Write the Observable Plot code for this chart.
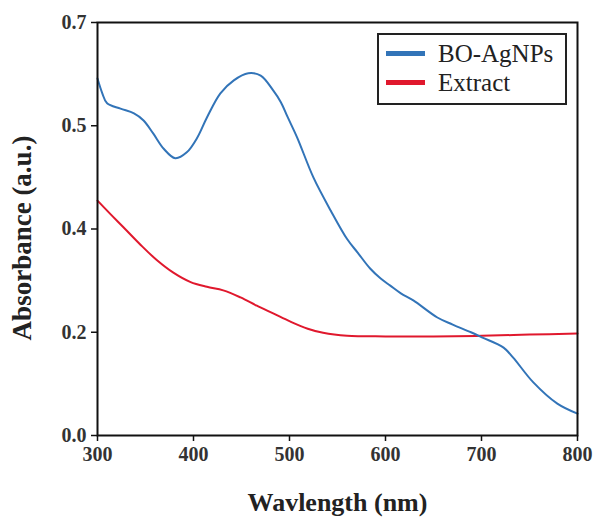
<!DOCTYPE html>
<html>
<head>
<meta charset="utf-8">
<script src="https://cdn.jsdelivr.net/npm/d3@7"></script>
<script src="https://cdn.jsdelivr.net/npm/@observablehq/plot@0.6"></script>
<style>
  html, body { margin: 0; padding: 0; background: #fff; }
  #wrap { position: relative; width: 594px; height: 517px; }
  #legend {
    position: absolute; left: 377px; top: 33px; width: 190px; height: 72px;
    border: 2px solid #222; box-sizing: border-box; background: #fff;
    font-family: "Liberation Serif", "Times New Roman", serif; font-size: 25px; color: #222;
    padding-top: 4px;
  }
  .row { display: flex; align-items: center; height: 29px; }
  .sw { width: 39px; height: 5px; margin-left: 7px; margin-right: 13px; }
</style>
</head>
<body>
<div id="wrap"></div>
<script>
const seriesNames = ["BO-AgNPs", "Extract"];
const seriesColors = ["#3274b8", "#e0182d"];

const blueWavelength = [300,305,310,324,338,348,358,369,381,393,404,414,428,442,457,470,483,491,498,508,525,543,560,571,584,595,605,616,629,654,670,689,701,723,733,754,779,800];
const blueAbsorbance = [0.605,0.580,0.563,0.554,0.546,0.534,0.512,0.486,0.470,0.480,0.505,0.539,0.580,0.602,0.614,0.610,0.585,0.565,0.540,0.505,0.437,0.381,0.333,0.310,0.283,0.266,0.254,0.241,0.229,0.200,0.188,0.175,0.166,0.149,0.132,0.090,0.054,0.037];

const redWavelength = [300,313,327,345,362,379,397,414,431,449,466,483,501,519,535,560,600,650,700,750,800];
const redAbsorbance = [0.398,0.376,0.353,0.323,0.297,0.276,0.260,0.252,0.246,0.234,0.220,0.207,0.193,0.181,0.174,0.169,0.168,0.168,0.169,0.171,0.173];

const xTicks = [300,400,500,600,700,800];
const yTickValues = [0, 0.175, 0.35, 0.525, 0.7];
const yTickLabels = ["0.0", "0.2", "0.4", "0.5", "0.7"];
const xTitle = "Wavlength (nm)";
const yTitle = "Absorbance (a.u.)";

const blue = blueWavelength.map((w, i) => ({w, a: blueAbsorbance[i]}));
const red = redWavelength.map((w, i) => ({w, a: redAbsorbance[i]}));

const font = "Liberation Serif";

const chart = Plot.plot({
  width: 594,
  height: 517,
  marginLeft: 97,
  marginRight: 17,
  marginTop: 22,
  marginBottom: 82,
  style: { fontFamily: font, background: "#fff", overflow: "visible" },
  x: { domain: [300, 800] },
  y: { domain: [0, 0.7] },
  marks: [
    Plot.axisX({
      ticks: xTicks, tickSize: 6, tickPadding: 5, fontSize: 20, fontWeight: "bold",
      color: "#333", stroke: "#111", strokeWidth: 1.5, label: null, tickFormat: d => String(d)
    }),
    Plot.axisY({
      ticks: yTickValues, tickSize: 6, tickPadding: 5, fontSize: 20, fontWeight: "bold",
      color: "#333", stroke: "#111", strokeWidth: 1.5, label: null,
      tickFormat: d => yTickLabels[yTickValues.indexOf(d)]
    }),
    Plot.line(red, {x: "w", y: "a", stroke: seriesColors[1], strokeWidth: 2, curve: "catmull-rom"}),
    Plot.line(blue, {x: "w", y: "a", stroke: seriesColors[0], strokeWidth: 2, curve: "catmull-rom"}),
    Plot.frame({stroke: "#111", strokeWidth: 2}),
    Plot.text([xTitle], {
      frameAnchor: "bottom", dy: 75, fontSize: 26, fontWeight: "bold", fill: "#222",
      text: d => d
    }),
    Plot.text([yTitle], {
      frameAnchor: "left", textAnchor: "middle", lineAnchor: "middle", dx: -75, dy: 9, rotate: -90,
      fontSize: 27, fontWeight: "bold", fill: "#222",
      text: d => d
    })
  ]
});

const wrap = document.getElementById("wrap");
wrap.appendChild(chart);

const legend = document.createElement("div");
legend.id = "legend";
seriesNames.forEach((name, i) => {
  const row = document.createElement("div");
  row.className = "row";
  const sw = document.createElement("div");
  sw.className = "sw";
  sw.style.background = seriesColors[i];
  const label = document.createElement("span");
  label.textContent = name;
  row.appendChild(sw);
  row.appendChild(label);
  legend.appendChild(row);
});
wrap.appendChild(legend);
</script>
</body>
</html>
